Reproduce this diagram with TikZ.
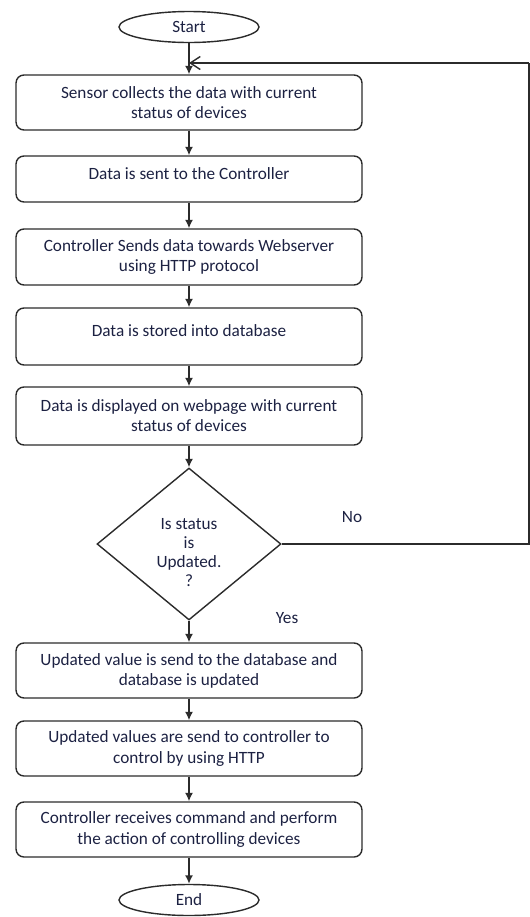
\documentclass[tikz,border=0pt]{standalone}
\usepackage{fontspec}
\setmainfont{Carlito}
\usetikzlibrary{arrows.meta,shapes.geometric}
\definecolor{inkNavy}{HTML}{1C2142}
\definecolor{edgeGray}{HTML}{2B2B2B}

\begin{document}
\begin{tikzpicture}[>={Latex[length=1.7mm,width=1.6mm]},x=0.02cm,y=-0.02cm,
  every node/.style={font=\fontsize{9.8}{11.4}\selectfont,text=inkNavy},
  terminal/.style={draw=edgeGray,line width=0.8pt,ellipse,minimum width=2.8cm,minimum height=0.62cm,inner sep=0pt},
  stepbox/.style={draw=edgeGray,line width=0.8pt,rounded corners=4.5pt,minimum width=6.92cm,align=center,inner sep=0pt},
  oneline/.style={stepbox,text depth=6.5pt},
  decision/.style={draw=edgeGray,line width=0.8pt,diamond,minimum width=3.68cm,minimum height=3.04cm,inner sep=0pt,align=center,font=\fontsize{9.8}{10.8}\selectfont},
  flow/.style={->,draw=edgeGray,line width=0.8pt},
  loopline/.style={draw=edgeGray,line width=0.8pt}]
  \useasboundingbox (0,0) rectangle (529,917);

  \node[terminal] (start) at (189,27) {Start};
  \node[stepbox,minimum height=1.1cm] (sense) at (189,102.5)
    {Sensor collects the data with current\\status of devices};
  \node[oneline,minimum height=0.92cm] (send) at (189,179)
    {Data is sent to the Controller};
  \node[stepbox,minimum height=1.12cm] (http) at (189,257)
    {Controller Sends data towards Webserver\\using HTTP protocol};
  \node[oneline,minimum height=1.14cm] (store) at (189,336.5)
    {Data is stored into database};
  \node[stepbox,minimum height=1.16cm] (show) at (189,416)
    {Data is displayed on webpage with current\\status of devices};
  \node[decision] (check) at (189,544)
    {\rule{0pt}{16pt}Is status\\is\\Updated.\\?};
  \node (no) at (352,517) {No};
  \node (yes) at (287,618) {Yes};
  \node[stepbox,minimum height=1.1cm] (update) at (189,670.5)
    {Updated value is send to the database and\\database is updated};
  \node[stepbox,minimum height=1.1cm] (notify) at (189,748.5)
    {Updated values are send to controller to\\control by using HTTP};
  \node[stepbox,minimum height=1.1cm] (act) at (189,829.5)
    {Controller receives command and perform\\the action of controlling devices};
  \node[terminal] (stop) at (189,900) {End};
  \coordinate (rail) at (529,63);

  % main flow
  \draw[flow] (start) -- (sense);
  \draw[flow] (sense) -- (send);
  \draw[flow] (send) -- (http);
  \draw[flow] (http) -- (store);
  \draw[flow] (store) -- (show);
  \draw[flow] (show) -- (check);
  \draw[flow] (check) -- (update);
  \draw[flow] (update) -- (notify);
  \draw[flow] (notify) -- (act);
  \draw[flow] (act) -- (stop);

  % back to the sensor when nothing changed
  \draw[loopline] (check.east) -| (rail);
  \draw[loopline,-{Straight Barb[length=2mm,width=2.6mm]}] (rail) -- (rail -| start);
\end{tikzpicture}
\end{document}
